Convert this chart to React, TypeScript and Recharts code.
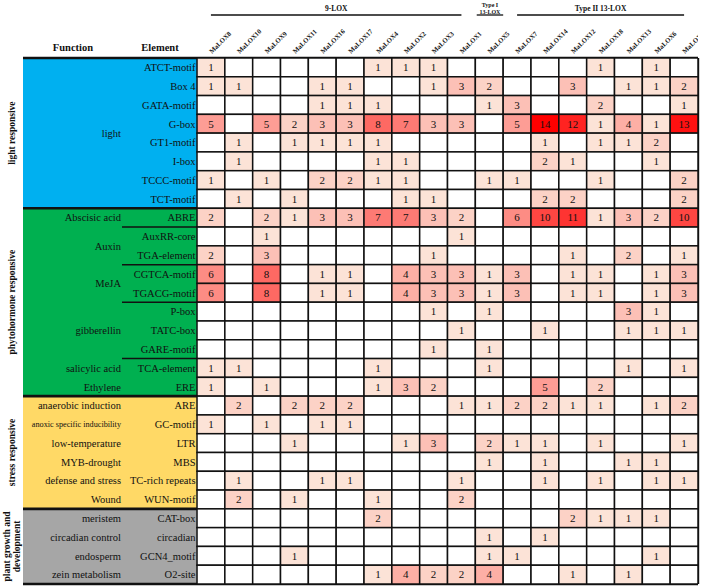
import { ScatterChart, Scatter, XAxis, YAxis, ReferenceArea, ReferenceLine } from 'recharts';

const genes = ['MaLOX8', 'MaLOX10', 'MaLOX9', 'MaLOX11', 'MaLOX16', 'MaLOX17', 'MaLOX4', 'MaLOX2', 'MaLOX3', 'MaLOX1', 'MaLOX5', 'MaLOX7', 'MaLOX14', 'MaLOX12', 'MaLOX18', 'MaLOX13', 'MaLOX6', 'MaLOX15'];

const families = ['9-LOX', 'Type I|13-LOX', 'Type II 13-LOX'];

const lightElements = ['ATCT-motif', 'Box 4', 'GATA-motif', 'G-box', 'GT1-motif', 'I-box', 'TCCC-motif', 'TCT-motif'];
const lightCounts = [
  [1, 0, 0, 0, 0, 0, 1, 1, 1, 0, 0, 0, 0, 0, 1, 0, 1, 0],
  [1, 1, 0, 0, 1, 1, 0, 0, 1, 3, 2, 0, 0, 3, 0, 1, 1, 2],
  [0, 0, 0, 0, 1, 1, 1, 0, 0, 0, 1, 3, 0, 0, 2, 0, 0, 1],
  [5, 0, 5, 2, 3, 3, 8, 7, 3, 3, 0, 5, 14, 12, 1, 4, 1, 13],
  [0, 1, 0, 1, 1, 1, 1, 0, 0, 0, 0, 0, 1, 0, 1, 1, 2, 0],
  [0, 1, 0, 0, 0, 0, 1, 1, 0, 0, 0, 0, 2, 1, 0, 0, 1, 0],
  [1, 0, 1, 0, 2, 2, 1, 1, 0, 0, 1, 1, 0, 0, 1, 0, 0, 2],
  [0, 1, 0, 1, 0, 0, 0, 1, 1, 0, 0, 0, 2, 2, 0, 0, 0, 2],
];

const hormoneElements = ['ABRE', 'AuxRR-core', 'TGA-element', 'CGTCA-motif', 'TGACG-motif', 'P-box', 'TATC-box', 'GARE-motif', 'TCA-element', 'ERE'];
const hormoneCounts = [
  [2, 0, 2, 1, 3, 3, 7, 7, 3, 2, 0, 6, 10, 11, 1, 3, 2, 10],
  [0, 0, 1, 0, 0, 0, 0, 0, 0, 1, 0, 0, 0, 0, 0, 0, 0, 0],
  [2, 0, 3, 0, 0, 0, 0, 0, 1, 0, 0, 0, 0, 1, 0, 2, 0, 1],
  [6, 0, 8, 0, 1, 1, 0, 4, 3, 3, 1, 3, 0, 1, 1, 0, 1, 3],
  [6, 0, 8, 0, 1, 1, 0, 4, 3, 3, 1, 3, 0, 1, 1, 0, 1, 3],
  [0, 0, 0, 0, 0, 0, 0, 0, 1, 0, 1, 0, 0, 0, 0, 3, 1, 0],
  [0, 0, 0, 0, 0, 0, 0, 0, 0, 1, 0, 0, 1, 0, 0, 1, 1, 1],
  [0, 0, 0, 0, 0, 0, 0, 0, 1, 0, 1, 0, 0, 0, 0, 0, 0, 0],
  [1, 1, 0, 0, 0, 0, 1, 0, 0, 0, 1, 0, 0, 0, 0, 1, 0, 1],
  [1, 0, 1, 0, 0, 0, 1, 3, 2, 0, 0, 0, 5, 0, 2, 0, 0, 0],
];

const stressElements = ['ARE', 'GC-motif', 'LTR', 'MBS', 'TC-rich repeats', 'WUN-motif'];
const stressCounts = [
  [0, 2, 0, 2, 2, 2, 0, 0, 0, 1, 1, 2, 2, 1, 1, 0, 1, 2],
  [1, 0, 1, 0, 1, 1, 0, 0, 0, 0, 0, 0, 0, 0, 0, 0, 0, 0],
  [0, 0, 0, 1, 0, 0, 0, 1, 3, 0, 2, 1, 1, 0, 1, 0, 0, 1],
  [0, 0, 0, 0, 0, 0, 0, 0, 0, 0, 1, 0, 1, 0, 0, 1, 1, 0],
  [0, 1, 0, 0, 1, 1, 0, 0, 0, 1, 0, 0, 1, 0, 1, 0, 1, 1],
  [0, 2, 0, 1, 0, 0, 1, 0, 0, 2, 0, 0, 0, 0, 0, 0, 0, 0],
];

const growthElements = ['CAT-box', 'circadian', 'GCN4_motif', 'O2-site'];
const growthCounts = [
  [0, 0, 0, 0, 0, 0, 2, 0, 0, 0, 0, 0, 0, 2, 1, 1, 1, 0],
  [0, 0, 0, 0, 0, 0, 0, 0, 0, 0, 1, 0, 1, 0, 0, 0, 0, 0],
  [0, 0, 0, 1, 0, 0, 0, 0, 0, 0, 1, 1, 0, 0, 0, 0, 1, 0],
  [0, 0, 0, 0, 0, 0, 1, 4, 2, 2, 4, 0, 0, 1, 0, 1, 0, 0],
];

const categories = ['light responsive', 'phytohormone responsive', 'stress responsive', 'plant growth and|development'];
const categoryColors = ['#00b0f0', '#00b050', '#ffd966', '#a6a6a6'];

const functionNames = ['light', 'Abscisic acid', 'Auxin', 'MeJA', 'gibberellin', 'salicylic acid', 'Ethylene', 'anaerobic induction', 'anoxic specific inducibility', 'low-temperature', 'MYB-drought', 'defense and stress', 'Wound', 'meristem', 'circadian control', 'endosperm', 'zein metabolism'];
const functionFirstRow = [0, 8, 9, 11, 13, 16, 17, 18, 19, 20, 21, 22, 23, 24, 25, 26, 27];
const functionLastRow = [7, 8, 10, 12, 15, 16, 17, 18, 19, 20, 21, 22, 23, 24, 25, 26, 27];

// layout (pixels)
const W = 708;
const H = 586;
const CW = 27.83;
const RH = 18.79;
const GRID_LEFT = 197;
const GRID_TOP = 58;
const X0 = -GRID_LEFT / CW;
const NROWS = 28;
const YTOP = NROWS + GRID_TOP / RH;
const px2x = (px: number) => X0 + px / CW;
const px2y = (py: number) => YTOP - py / RH;
const serif = { fontFamily: '"Liberation Serif", "DejaVu Serif", serif' };

const groups = [lightCounts, hormoneCounts, stressCounts, growthCounts];
const allCounts = groups.flat();
const allElements = [...lightElements, ...hormoneElements, ...stressElements, ...growthElements];
const groupStarts: number[] = [];
groups.reduce((acc, g) => {
  groupStarts.push(acc);
  return acc + g.length;
}, 0);

const rowY = (r: number) => NROWS - r - 0.5;

const cellData = allCounts.flatMap((row, r) =>
  row.map((v, c) => ({ x: c + 0.5, y: rowY(r), v }))
);
const elementData = allElements.map((name, r) => ({ x: 0, y: rowY(r), name }));
const functionData = functionNames.map((name, i) => ({
  x: px2x(121),
  y: NROWS - (functionFirstRow[i] + functionLastRow[i] + 1) / 2,
  name,
}));
const geneData = genes.map((name, i) => ({ x: i + 0.5, y: px2y(54), name }));
const categoryData = categories.map((name, i) => ({
  x: px2x(12),
  y: NROWS - groupStarts[i] - groups[i].length / 2,
  name,
}));
const headerData = [
  { x: px2x(73), y: px2y(51), name: 'Function' },
  { x: px2x(160), y: px2y(51), name: 'Element' },
];
const familySpans = [
  [0.5, 9.5],
  [10.05, 11.0],
  [11.5, 17.5],
];
const familyData = families.map((name, i) => ({
  x: (familySpans[i][0] + familySpans[i][1]) / 2,
  y: px2y(8),
  name,
}));
const elementDividers = [8, 10, 12, 15];

function heat(v: number) {
  if (!v) return '#ffffff';
  const t = Math.min(1, (v - 1) / 13);
  const r = Math.round(252 + 3 * t);
  const g = Math.round(227 * (1 - t));
  const b = Math.round(215 * (1 - t));
  return `rgb(${r},${g},${b})`;
}

const CellShape = (p: any) => (
  <g>
    <rect x={p.cx - CW / 2} y={p.cy - RH / 2} width={CW} height={RH} fill={heat(p.payload.v)} stroke="#111" strokeWidth={1.5} />
    {p.payload.v > 0 && (
      <text x={p.cx} y={p.cy + 3.8} textAnchor="middle" fontSize={11} style={serif} fill="#111">
        {p.payload.v}
      </text>
    )}
  </g>
);

const ElementShape = (p: any) => (
  <text x={p.cx - 1.5} y={p.cy + 3.8} textAnchor="end" fontSize={10.5} style={serif} fill="#111">
    {p.payload.name}
  </text>
);

const FunctionShape = (p: any) => {
  const small = p.payload.name.length > 22;
  return (
    <text x={p.cx} y={p.cy + (small ? 2.8 : 3.8)} textAnchor="end" fontSize={small ? 8.2 : 10.5} style={serif} fill="#111">
      {p.payload.name}
    </text>
  );
};

const GeneShape = (p: any) => (
  <text x={p.cx + 1} y={p.cy} transform={`rotate(-45 ${p.cx + 1} ${p.cy})`} fontSize={6.8} fontWeight="bold" style={serif} fill="#111">
    {p.payload.name}
  </text>
);

const CategoryShape = (p: any) => {
  const lines = p.payload.name.split('|');
  return (
    <text transform={`translate(${p.cx} ${p.cy}) rotate(-90)`} textAnchor="middle" fontSize={9.5} fontWeight="bold" style={serif} fill="#111">
      {lines.map((l: string, i: number) => (
        <tspan key={i} x={0} y={(i - (lines.length - 1) / 2) * 10 + 3.4}>
          {l}
        </tspan>
      ))}
    </text>
  );
};

const HeaderShape = (p: any) => (
  <text x={p.cx} y={p.cy} textAnchor="middle" fontSize={10.5} fontWeight="bold" style={serif} fill="#111">
    {p.payload.name}
  </text>
);

const FamilyShape = (p: any) => {
  const lines = p.payload.name.split('|');
  return (
    <text textAnchor="middle" fontSize={lines.length > 1 ? 6 : 7.5} fontWeight="bold" style={serif} fill="#111">
      {lines.map((l: string, i: number) => (
        <tspan key={i} x={p.cx} y={p.cy + (i - (lines.length - 1) / 2) * 7 + 2.6}>
          {l}
        </tspan>
      ))}
    </text>
  );
};

export default function App() {
  const leftEdge = px2x(23);
  return (
    <div style={{ position: 'absolute', left: 0, top: 0, width: W, height: H, background: '#fff' }}>
      <ScatterChart width={W} height={H} margin={{ top: 0, right: W - 698, bottom: H - 584, left: 0 }}>
        <XAxis type="number" dataKey="x" domain={[X0, 18]} allowDataOverflow hide />
        <YAxis type="number" dataKey="y" domain={[0, YTOP]} allowDataOverflow hide />

        {categories.map((c, i) => (
          <ReferenceArea
            key={c}
            x1={leftEdge}
            x2={0}
            y1={NROWS - groupStarts[i] - groups[i].length}
            y2={NROWS - groupStarts[i]}
            fill={categoryColors[i]}
            fillOpacity={1}
            stroke="none"
            ifOverflow="visible"
          />
        ))}

        <Scatter data={cellData} shape={CellShape} isAnimationActive={false} />
        <Scatter data={elementData} shape={ElementShape} isAnimationActive={false} />
        <Scatter data={functionData} shape={FunctionShape} isAnimationActive={false} />
        <Scatter data={geneData} shape={GeneShape} isAnimationActive={false} />
        <Scatter data={categoryData} shape={CategoryShape} isAnimationActive={false} />
        <Scatter data={headerData} shape={HeaderShape} isAnimationActive={false} />
        <Scatter data={familyData} shape={FamilyShape} isAnimationActive={false} />

        {elementDividers.map((r) => (
          <ReferenceLine
            key={`d${r}`}
            segment={[{ x: px2x(122), y: NROWS - r - 1 }, { x: 0, y: NROWS - r - 1 }]}
            stroke="#111"
            strokeWidth={1.5}
            ifOverflow="visible"
          />
        ))}
        {[0, ...groupStarts.slice(1), NROWS].map((s) => (
          <ReferenceLine
            key={`g${s}`}
            segment={[{ x: leftEdge, y: NROWS - s }, { x: 18, y: NROWS - s }]}
            stroke="#111"
            strokeWidth={2.6}
            ifOverflow="visible"
          />
        ))}
        <ReferenceLine segment={[{ x: 18, y: 0 }, { x: 18, y: NROWS }]} stroke="#111" strokeWidth={2.4} ifOverflow="visible" />
        {familySpans.map((s, i) => (
          <ReferenceLine
            key={`f${i}`}
            segment={[{ x: s[0], y: px2y(15) }, { x: s[1], y: px2y(15) }]}
            stroke="#111"
            strokeWidth={1.3}
            ifOverflow="visible"
          />
        ))}
      </ScatterChart>
    </div>
  );
}
